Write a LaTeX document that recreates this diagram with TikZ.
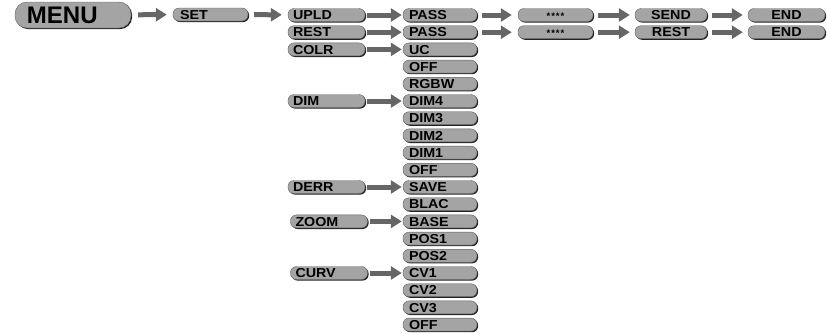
\documentclass[tikz,border=0pt]{standalone}
\usepackage{fontspec}
\setmainfont{Liberation Sans}
\newfontfamily\boxfnt{Liberation Sans}[FakeStretch=1.1]
\usetikzlibrary{arrows.meta,shadows}
\definecolor{boxgray}{HTML}{A4A4A4}
\definecolor{boxedge}{HTML}{606060}
\definecolor{arrgray}{HTML}{666666}
\definecolor{shadowc}{HTML}{222222}
\begin{document}
\begin{tikzpicture}[x=1pt,y=-1pt,
  box/.style={rectangle, rounded corners=6pt, fill=boxgray, draw=boxedge, line width=0.4pt,
    minimum height=13pt, inner ysep=0pt, text height=9.3pt, text depth=0pt,
    font=\boxfnt\fontsize{13}{14}\selectfont\bfseries,
    drop shadow={shadow xshift=1.1pt, shadow yshift=-1.1pt, fill=shadowc, opacity=1}},
  lbox/.style={box, align=left, text width=#1},
  cbox/.style={box, align=center, text width=#1, inner xsep=2pt},
  lb2/.style={lbox=67pt, inner xsep=5pt},
  lb3/.style={lbox=62pt, inner xsep=6pt},
  arr/.style={draw=arrgray, line width=5pt, -{Triangle[length=11pt,width=13pt]}},
]
\useasboundingbox (0,0) rectangle (827,333);

% MENU and SET
\node[box, rounded corners=12pt, minimum height=26pt, align=left, text width=92pt, inner xsep=12pt,
  font=\fontsize{24}{26}\selectfont\bfseries, text height=17pt] (menu) at (73,15) {MENU};
\node[lbox=61pt, inner xsep=7pt] (set) at (210.5,14.5) {SET};
\draw[arr, shorten <=7pt, shorten >=6pt] (menu) -- (set);

% second column
\foreach \t/\i in {UPLD/0,REST/1,COLR/2,DIM/5,DERR/10}
  \node[lb2] (c2-\i) at (326.5,{15+17.2*\i}) {\t};
\foreach \t/\i in {ZOOM/12,CURV/15}
  \node[lb2] (c2-\i) at (329,{15+17.2*\i}) {\t};
\draw[arr, shorten <=6pt, shorten >=6pt] (set) -- (c2-0);

% third column
\foreach \t [count=\i from 0] in {PASS,PASS,UC,OFF,RGBW,DIM4,DIM3,DIM2,DIM1,OFF,SAVE,BLAC,BASE,POS1,POS2,CV1,CV2,CV3,OFF}
  \node[lb3] (c3-\i) at (440,{15+17.2*\i}) {\t};
\foreach \i in {0,1,2,5,10,12,15}
  \draw[arr, shorten <=2pt, shorten >=1pt] (c2-\i) -- (c3-\i);

% fourth to sixth columns
\foreach \i/\s in {0/SEND,1/REST} {
  \node[cbox=71pt, font=\fontsize{9.5}{10}\selectfont\bfseries, text height=9pt] (c4-\i) at (555.5,{15+17.2*\i}) {*\hspace{1pt}*\hspace{1pt}*\hspace{1pt}*};
  \node[cbox=68pt] (c5-\i) at (671,{15+17.2*\i}) {\s};
  \node[cbox=73pt] (c6-\i) at (786.5,{15+17.2*\i}) {END};
  \draw[arr, shorten <=5pt, shorten >=6pt] (c3-\i) -- (c4-\i);
  \draw[arr, shorten <=5pt, shorten >=5pt] (c4-\i) -- (c5-\i);
  \draw[arr, shorten <=5pt, shorten >=5pt] (c5-\i) -- (c6-\i);
}
\end{tikzpicture}
\end{document}
